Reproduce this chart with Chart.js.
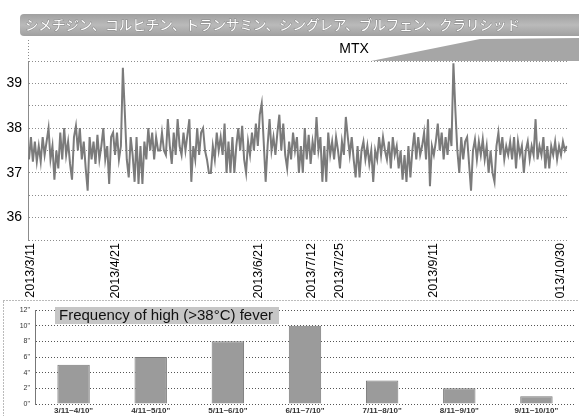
<!DOCTYPE html>
<html>
<head>
<meta charset="utf-8">
<script src="https://cdn.jsdelivr.net/npm/chart.js@4"></script>
<style>
  html, body { margin: 0; padding: 0; background: #fff; }
  #wrap { position: relative; width: 579px; height: 416px; overflow: hidden; }
  canvas { position: absolute; left: 0; background: #fff; }
  #temp-chart { top: 0; }
  #fever-chart { top: 298px; }
</style>
</head>
<body>
<div id="wrap">
  <canvas id="temp-chart" width="579" height="300"></canvas>
  <canvas id="fever-chart" width="579" height="118"></canvas>
</div>
<script>
// body temperature readings (several a day), 3/11 .. 10/30
const bodyTemp = [
  37.3, 37.8, 37.25, 37.7, 37.25, 37.6, 37.25, 37.8, 37.4, 37.7,
  38.0, 37.3, 37.6, 36.85, 37.5, 37.1, 37.9, 37.3, 38.0, 37.4,
  37.7, 37.2, 36.85, 37.8, 38.05, 37.5, 38.0, 37.3, 37.7, 37.1,
  36.6, 37.8, 37.3, 37.7, 37.2, 37.85, 37.3, 37.6, 38.0, 37.3,
  37.6, 36.75, 37.8, 37.9, 37.4, 37.9, 37.3, 37.6, 39.35, 38.35,
  37.3, 36.9, 37.8, 37.4, 36.8, 37.8, 36.75, 37.6, 36.75, 37.7,
  37.3, 38.0, 37.5, 37.9, 37.3, 37.8, 37.5, 37.5, 37.9, 37.5,
  37.4, 38.2, 37.6, 37.2, 37.9, 37.4, 38.2, 37.6, 37.4, 37.9,
  37.5, 37.85, 38.2, 36.8, 37.6, 37.3, 38.0, 37.4, 37.9, 38.0,
  37.5, 37.3, 37.0, 37.0, 37.6, 37.3, 37.9, 37.5, 37.8, 37.4,
  38.1, 37.0, 37.7, 37.0, 37.8, 37.0, 37.6, 38.0, 37.5, 38.05,
  37.3, 37.0, 37.7, 37.4, 37.9, 37.5, 38.1, 37.6, 38.3, 38.55,
  37.7, 36.8, 37.6, 38.2, 37.5, 37.8, 37.4, 37.9, 38.3, 37.5,
  38.1, 37.4, 37.1, 37.7, 37.3, 37.9, 37.5, 37.8, 37.0, 37.6,
  37.0, 38.0, 37.3, 37.85, 37.2, 37.7, 37.4, 38.25, 37.5, 37.8,
  36.8, 37.6, 36.8, 37.9, 37.4, 37.7, 37.3, 37.8, 37.5, 37.1,
  37.7, 37.4, 38.25, 37.8, 37.4, 37.8, 37.3, 36.9, 37.6, 36.9,
  37.5, 37.7, 37.3, 37.6, 37.2, 37.5, 36.8, 37.5, 37.3, 37.8,
  37.4, 37.8, 37.5, 37.3, 37.7, 37.1, 37.8, 37.4, 37.6, 37.1,
  37.5, 36.85, 37.4, 36.8, 37.6, 36.9, 37.5, 37.9, 37.3, 37.8,
  37.4, 37.6, 37.9, 37.3, 38.2, 36.7, 37.6, 37.4, 37.7, 38.1,
  37.5, 37.9, 37.3, 37.8, 37.4, 38.0, 37.6, 39.45, 38.4, 37.5,
  37.0, 37.8, 37.3, 37.7, 37.8, 37.2, 36.6, 37.5, 37.75, 37.3,
  37.7, 37.4, 37.75, 37.3, 37.6, 37.0, 37.5, 37.0, 36.8, 37.6,
  37.9, 37.4, 37.8, 37.3, 37.6, 37.4, 37.7, 37.3, 37.8, 37.1,
  37.7, 37.4, 37.6, 37.0, 37.5, 37.7, 37.3, 37.6, 37.4, 38.2,
  37.3, 37.6, 37.4, 37.8, 37.1, 37.6, 37.1, 37.6, 37.4, 37.7,
  37.3, 37.6, 37.4, 37.7, 37.5, 37.6
];

// date labels under the temperature chart and the reading they sit at
const dateLabels = ["2013/3/11", "2013/4/21", "2013/6/21", "2013/7/12", "2013/7/25", "2013/9/11", "2013/10/30"];
const dateTickPos = [1, 44.5, 117.5, 144.5, 159, 207, 272];

const drugLabel = "シメチジン、コルヒチン、トランサミン、シングレア、ブルフェン、クラリシッド";

// monthly count of high fever
const periodLabels = ['3/11~4/10"', '4/11~5/10"', '5/11~6/10"', '6/11~7/10"', '7/11~8/10"', '8/11~9/10"', '9/11~10/10"'];
const feverCounts = [5, 6, 8, 10, 3, 2, 1];

const gridGrey = "#8c8c8c";

// banner with drug names + MTX wedge
const headerPlugin = {
  id: "header",
  afterDraw(chart) {
    const c = chart.ctx;
    c.save();
    const g = c.createLinearGradient(0, 14, 0, 36);
    g.addColorStop(0, "#a0a0a0");
    g.addColorStop(0.5, "#bababa");
    g.addColorStop(1, "#a0a0a0");
    c.fillStyle = g;
    c.beginPath();
    c.roundRect(20, 14, 570, 22, 4);
    c.fill();

    c.font = '13.5px "Noto Sans CJK JP"';
    c.textBaseline = "middle";
    c.lineWidth = 1;
    c.strokeStyle = "#8a8a8a";
    c.strokeText(drugLabel, 25, 25);
    c.fillStyle = "#fff";
    c.fillText(drugLabel, 25, 25);

    c.fillStyle = "#000";
    c.font = '14px "Liberation Sans"';
    c.textAlign = "center";
    c.fillText("MTX", 354, 49);

    c.fillStyle = "#a6a6a6";
    c.beginPath();
    c.moveTo(371, 61);
    c.lineTo(480, 39);
    c.lineTo(579, 38);
    c.lineTo(579, 61);
    c.closePath();
    c.fill();

    c.strokeStyle = gridGrey;
    c.lineWidth = 1;
    c.setLineDash([1, 2]);
    c.beginPath();
    c.moveTo(28.5, 40);
    c.lineTo(28.5, 61);
    c.stroke();
    c.restore();
  }
};

new Chart(document.getElementById("temp-chart"), {
  type: "line",
  data: {
    datasets: [{
      data: bodyTemp.map((v, i) => ({ x: i, y: v })),
      borderColor: "#7b7b7b",
      borderWidth: 2,
      pointRadius: 0,
      tension: 0
    }]
  },
  options: {
    responsive: false,
    animation: false,
    layout: { padding: { top: 61, left: 0, right: 0, bottom: 0 } },
    plugins: { legend: { display: false }, tooltip: { enabled: false } },
    scales: {
      x: {
        type: "linear",
        min: -0.5,
        max: 275.2,
        afterBuildTicks: (s) => { s.ticks = dateTickPos.map((v) => ({ value: v })); },
        afterFit: (s) => { s.height = 60; },
        grid: { display: false, drawTicks: false },
        border: { display: false },
        ticks: {
          autoSkip: false,
          minRotation: 90,
          maxRotation: 90,
          padding: 3,
          color: "#000",
          font: { family: "Liberation Sans", size: 12.5 },
          callback: (v) => dateLabels[dateTickPos.indexOf(v)]
        }
      },
      y: {
        min: 35.5,
        max: 39.5,
        afterFit: (s) => { s.width = 28; },
        grid: { color: gridGrey, drawTicks: false },
        border: { display: true, color: gridGrey, dash: [1, 2] },
        ticks: {
          stepSize: 0.5,
          padding: 6,
          color: "#000",
          font: { family: "Liberation Sans", size: 14 },
          callback: (v) => (Number.isInteger(v) ? v : "")
        }
      }
    }
  },
  plugins: [headerPlugin]
});

// dotted frame + title box for the bar chart
const frameTitlePlugin = {
  id: "frameTitle",
  beforeDraw(chart) {
    const c = chart.ctx;
    c.save();
    c.strokeStyle = "#777";
    c.setLineDash([1, 2]);
    c.strokeRect(3.5, 2.5, 580, 120);
    c.restore();
  },
  afterDraw(chart) {
    const c = chart.ctx;
    c.save();
    c.fillStyle = "#c6c6c6";
    c.fillRect(55, 9, 224, 17);
    c.fillStyle = "#111";
    c.font = '15px "Liberation Sans"';
    c.textBaseline = "middle";
    c.fillText("Frequency of high (>38°C) fever", 59, 18);
    c.restore();
  }
};

new Chart(document.getElementById("fever-chart"), {
  type: "bar",
  data: {
    labels: periodLabels,
    datasets: [{
      data: feverCounts,
      backgroundColor: "#9b9b9b",
      borderColor: "#7a7a7a",
      borderWidth: 1,
      barPercentage: 0.42,
      categoryPercentage: 1
    }]
  },
  options: {
    responsive: false,
    animation: false,
    layout: { padding: { top: 12, left: 0, right: 4, bottom: 0 } },
    plugins: { legend: { display: false }, tooltip: { enabled: false } },
    scales: {
      x: {
        afterFit: (s) => { s.height = 12; },
        grid: { display: false, drawTicks: false },
        border: { display: false },
        ticks: {
          maxRotation: 0,
          padding: 2,
          color: "#333",
          font: { family: "Liberation Sans", size: 8, weight: "bold" }
        }
      },
      y: {
        min: 0,
        max: 12,
        afterFit: (s) => { s.width = 35; },
        grid: { color: "#555", drawTicks: false },
        border: { display: true, color: "#777", dash: [1, 2] },
        ticks: {
          stepSize: 2,
          padding: 5,
          color: "#333",
          font: { family: "Liberation Sans", size: 7 },
          callback: (v) => v + '"'
        }
      }
    }
  },
  plugins: [frameTitlePlugin]
});
</script>
</body>
</html>
